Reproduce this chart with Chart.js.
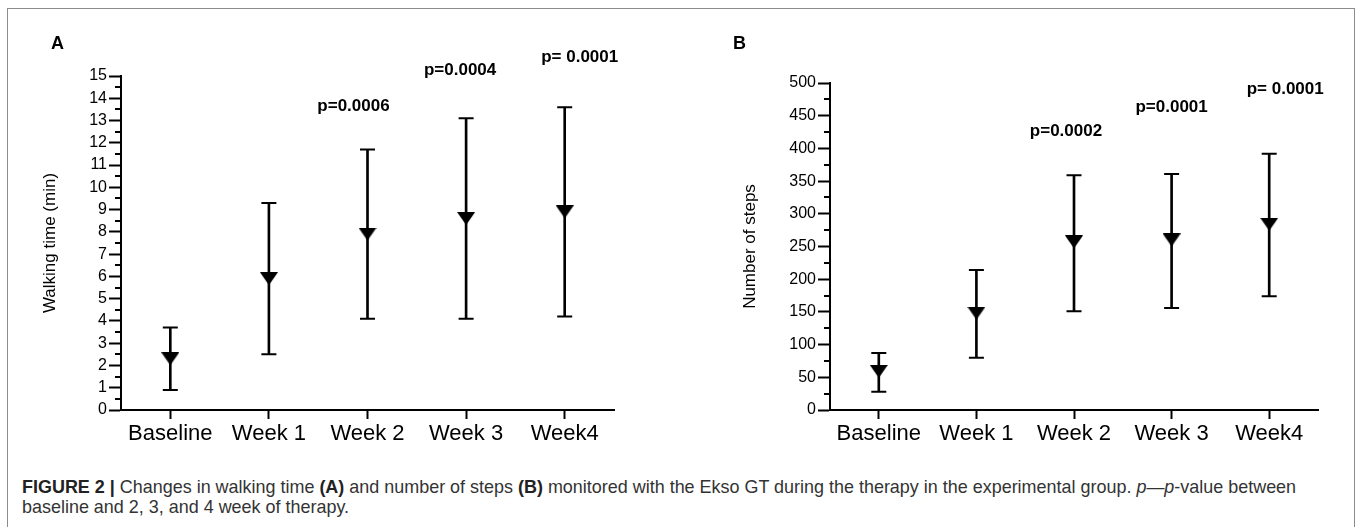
<!DOCTYPE html>
<html>
<head>
<meta charset="utf-8">
<script src="https://cdn.jsdelivr.net/npm/chart.js@4.4.1/dist/chart.umd.min.js"></script>
<style>
  body { margin: 0; background: #fff; width: 1357px; height: 527px; overflow: hidden; position: relative; font-family: "Liberation Sans", Arial, sans-serif; }
  #frame { position: absolute; left: 7px; top: 8px; width: 1348px; height: 560px; border: 1.5px solid #8c8c8c; box-sizing: border-box; }
  .wrap { position: absolute; top: 0; height: 450px; }
  #wrapA { left: 0; width: 680px; }
  #wrapB { left: 680px; width: 677px; }
  .letter { position: absolute; top: 33px; font: bold 18px "Liberation Sans", Arial, sans-serif; color: #000; }
  #caption { position: absolute; left: 22px; top: 477px; font-size: 14px; line-height: 20px; color: #333; white-space: nowrap; }
  #caption b { color: #222; }
</style>
</head>
<body>
<div id="frame"></div>
<div class="wrap" id="wrapA"><canvas id="chartA" width="680" height="450"></canvas></div>
<div class="wrap" id="wrapB"><canvas id="chartB" width="677" height="450"></canvas></div>
<div class="letter" style="left:51px">A</div>
<div class="letter" style="left:733px">B</div>
<div id="caption"><span id="line1"><b>FIGURE 2 |</b> Changes in walking time <b>(A)</b> and number of steps <b>(B)</b> monitored with the Ekso GT during the therapy in the experimental group. <i>p</i>—<i>p</i>-value between</span><br>baseline and 2, 3, and 4 week of therapy.</div>
<script>
const categories = ["Baseline", "Week 1", "Week 2", "Week 3", "Week4"];

// panel A - walking time (min)
const timeMean = [2.3, 5.9, 7.9, 8.6, 8.9];
const timeLow = [0.9, 2.5, 4.1, 4.1, 4.2];
const timeHigh = [3.7, 9.3, 11.7, 13.1, 13.6];
const timeP = ["", "", "p=0.0006", "p=0.0004", "p= 0.0001"];

// panel B - number of steps
const stepsMean = [59, 148, 257, 260, 284];
const stepsLow = [28, 80, 151, 156, 174];
const stepsHigh = [87, 214, 359, 361, 392];
const stepsP = ["", "", "p=0.0002", "p=0.0001", "p= 0.0001"];

// caption: first line runs to the same width as in the figure
const line1 = document.getElementById("line1");
document.getElementById("caption").style.fontSize =
  (14 * 1275 / line1.getBoundingClientRect().width).toFixed(2) + "px";

function downTriangle(w, h) {
  const c = document.createElement("canvas");
  c.width = w; c.height = h;
  const g = c.getContext("2d");
  g.fillStyle = "#000";
  g.beginPath();
  g.moveTo(0, 0); g.lineTo(w, 0); g.lineTo(w / 2, h);
  g.closePath(); g.fill();
  return c;
}
const tri = downTriangle(18, 13);

// short ticks between the labelled ones on the y axis
const minorTicks = {
  id: "minorTicks",
  afterDraw(chart, args, opts) {
    const y = chart.scales.y, ctx = chart.ctx;
    const x0 = chart.chartArea.left;
    ctx.save();
    ctx.strokeStyle = "#000";
    ctx.lineWidth = 2;
    for (let v = y.min + opts.step; v < y.max; v += opts.step * 2) {
      const py = Math.round(y.getPixelForValue(v));
      ctx.beginPath();
      ctx.moveTo(x0 - 6, py);
      ctx.lineTo(x0, py);
      ctx.stroke();
    }
    ctx.restore();
  }
};

const pLabels = {
  id: "pLabels",
  afterDraw(chart, args, opts) {
    const ctx = chart.ctx;
    ctx.save();
    ctx.font = "bold 17px 'Liberation Sans', Arial, sans-serif";
    ctx.fillStyle = "#000";
    ctx.textAlign = "center";
    ctx.textBaseline = "middle";
    opts.labels.forEach((t, i) => {
      if (!t) return;
      const px = chart.scales.x.getPixelForValue(i) + opts.dx[i];
      const py = chart.scales.y.getPixelForValue(opts.at[i]);
      ctx.fillText(t, px, py);
    });
    ctx.restore();
  }
};

function makeChart(id, cfg) {
  const ctx = document.getElementById(id).getContext("2d");
  return new Chart(ctx, {
    type: "bar",
    data: {
      labels: categories,
      datasets: [
        {
          data: cfg.mean,
          type: "line",
          showLine: false,
          pointStyle: tri,
          pointRadius: 9,
          order: 0
        },
        {
          data: cfg.high,
          type: "line",
          showLine: false,
          pointStyle: "line",
          pointRadius: 7.5,
          pointBorderWidth: 2,
          pointBorderColor: "#000",
          order: 1
        },
        {
          data: cfg.low,
          type: "line",
          showLine: false,
          pointStyle: "line",
          pointRadius: 7.5,
          pointBorderWidth: 2,
          pointBorderColor: "#000",
          order: 1
        },
        {
          data: cfg.low.map((l, i) => [l, cfg.high[i]]),
          backgroundColor: "#000",
          barThickness: 2,
          order: 2
        }
      ]
    },
    options: {
      responsive: false,
      animation: false,
      devicePixelRatio: 1,
      layout: { padding: cfg.padding },
      plugins: {
        legend: { display: false },
        tooltip: { enabled: false },
        minorTicks: { step: cfg.step / 2 },
        pLabels: { labels: cfg.p, at: cfg.pAt, dx: cfg.pDx }
      },
      scales: {
        x: {
          grid: { drawOnChartArea: false, offset: false, tickLength: 9, tickWidth: 2, tickColor: "#000" },
          border: { color: "#000", width: 2 },
          ticks: { color: "#000", padding: 2, font: { size: 22, family: "'Liberation Sans', Arial, sans-serif" } },
          afterFit(s) { s.height = 40; }
        },
        y: {
          min: 0,
          max: cfg.max,
          grid: { drawOnChartArea: false, tickLength: 12, tickWidth: 2, tickColor: "#000" },
          border: { color: "#000", width: 2 },
          ticks: { stepSize: cfg.step, color: "#000", padding: 2, font: { size: 16, family: "'Liberation Sans', Arial, sans-serif" } },
          title: {
            display: true,
            text: cfg.title,
            color: "#000",
            padding: { top: cfg.titlePad, bottom: 0 },
            font: { size: 17, family: "'Liberation Sans', Arial, sans-serif" }
          },
          afterFit(s) { s.width = cfg.axisWidth; }
        }
      }
    },
    plugins: [minorTicks, pLabels]
  });
}

makeChart("chartA", {
  mean: timeMean, low: timeLow, high: timeHigh,
  max: 15, step: 1, title: "Walking time (min)",
  p: timeP, pAt: [0, 0, 13.65, 15.27, 15.85], pDx: [0, 0, -14, -6, 15],
  padding: { top: 76, right: 66, left: 0, bottom: 0 },
  axisWidth: 121, titlePad: 40
});

makeChart("chartB", {
  mean: stepsMean, low: stepsLow, high: stepsHigh,
  max: 500, step: 50, title: "Number of steps",
  p: stepsP, pAt: [0, 0, 426, 463, 490], pDx: [0, 0, -8, 0, 16],
  padding: { top: 83, right: 39, left: 0, bottom: 0 },
  axisWidth: 150, titlePad: 60
});
</script>
</body>
</html>
